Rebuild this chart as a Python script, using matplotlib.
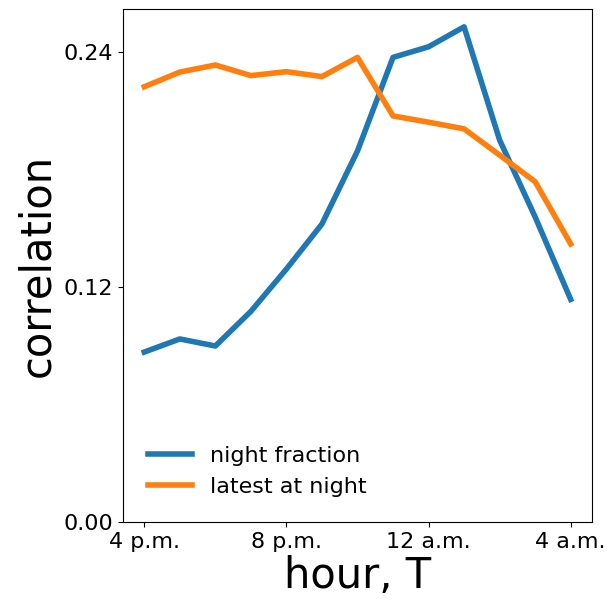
import matplotlib
matplotlib.use('Agg')
import matplotlib.pyplot as plt

hours = list(range(16, 29))
night_fraction = [0.0868, 0.0935, 0.0899, 0.1076, 0.1292, 0.1522, 0.1895,
                  0.2373, 0.2427, 0.2529, 0.1951, 0.1558, 0.1137]
latest_at_night = [0.2223, 0.2298, 0.2334, 0.2280, 0.2300, 0.2275, 0.2373,
                   0.2074, 0.2042, 0.2008, 0.1874, 0.1738, 0.1420]
xtick_pos = [16, 20, 24, 28]
xtick_labels = ['4 p.m.', '8 p.m.', '12 a.m.', '4 a.m.']
ytick_pos = [0.0, 0.12, 0.24]

fig = plt.figure(figsize=(6.1, 6.01), dpi=100)
ax = fig.add_axes([0.2016, 0.1314, 0.7689, 0.8536])
ax.plot(hours, night_fraction, color='#1f77b4', lw=4, label='night fraction')
ax.plot(hours, latest_at_night, color='#ff7f0e', lw=4, label='latest at night')
ax.set_ylim(0, 0.262)
ax.set_xticks(xtick_pos)
ax.set_xticklabels(xtick_labels)
ax.set_yticks(ytick_pos)
ax.set_yticklabels(['%.2f' % v for v in ytick_pos])
ax.tick_params(labelsize=16)
ax.set_xlabel('hour, T', fontsize=30, labelpad=2)
ax.set_ylabel('correlation', fontsize=30)
ax.legend(loc='lower left', frameon=False, fontsize=16, bbox_to_anchor=(0.01, 0.01))
fig.savefig('out.png', dpi=100)
